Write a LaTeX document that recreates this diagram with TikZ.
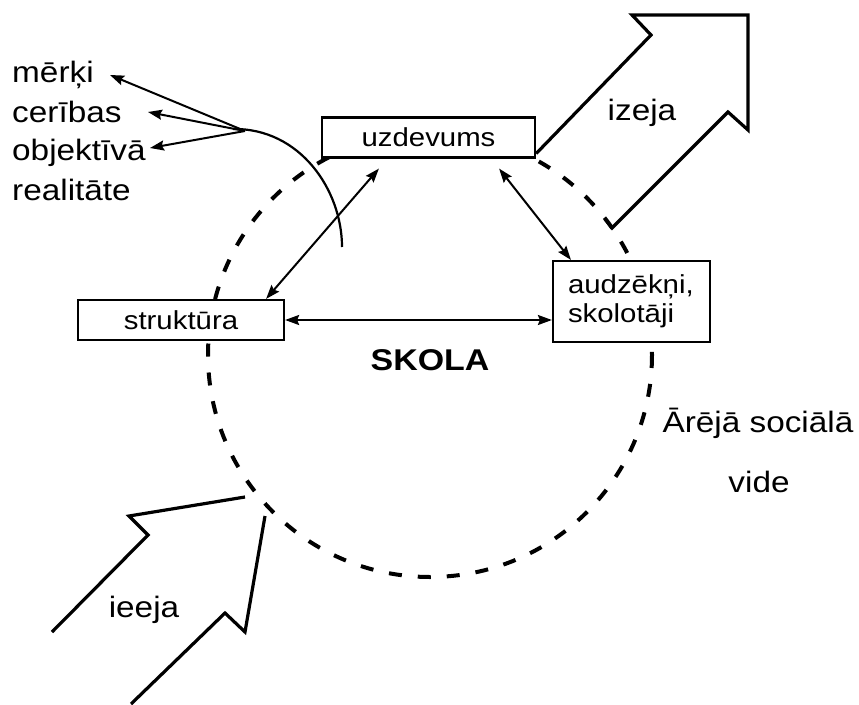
\documentclass[tikz,border=0pt]{standalone}
\usepackage{fontspec}
\setmainfont{Liberation Sans}[FakeStretch=1.13]
\usetikzlibrary{arrows.meta}
\begin{document}
\begin{tikzpicture}[x=1pt,y=-1pt,
  box/.style={draw, line width=2.2pt, fill=white, inner sep=0pt, font=\fontsize{26}{29}\selectfont},
  lab/.style={inner sep=0pt, font=\fontsize{29.5}{34}\selectfont},
  conn/.style={line width=2pt, {Stealth[length=14pt,width=10pt,inset=2pt]}-{Stealth[length=14pt,width=10pt,inset=2pt]}},
  oneway/.style={line width=2pt, -{Stealth[length=14pt,width=10pt,inset=2pt]}},
  big/.style={line width=3.2pt, line join=miter},
  ring/.style={line width=4pt, dash pattern=on 13pt off 16pt}
]
\useasboundingbox (0,0) rectangle (859,704);

% dashed circle (school boundary)
\draw[ring] (430,355) circle [radius=222];

% boxes
\node[box, minimum width=213pt, minimum height=40pt] (u) at (428.5,137.5) {uzdevums};
\node[box, minimum width=206pt, minimum height=40pt] (s) at (181,320) {struktūra};
\node[box, minimum height=81pt, text width=127pt, inner xsep=15pt, align=left] (a) at (631.5,301.5) {audzēkņi,\\skolotāji};

% connectors between boxes
\draw[conn] (s.east) -- (s.east -| a.west);
\draw[conn] ([xshift=-19pt]s.north east) -- ([shift={(58,10)}]u.south west);
\draw[conn] ([shift={(-37,10)}]u.south east) -- ([xshift=19pt]a.north west);

% left labels
\node[lab, anchor=base west] (mer) at (12,82) {mērķi};
\node[lab, anchor=base west] (cer) at (12,122) {cerības};
\node[lab, anchor=base west] (obj) at (12,160) {objektīvā};
\node[lab, anchor=base west] (rea) at (12,200) {realitāte};

\coordinate (hub) at (245,131);
\coordinate (tm) at (110,75);
\coordinate (tc) at (148,112);
\coordinate (to) at (150,148);
\draw[oneway] (hub) -- (tm);
\draw[oneway] (hub) -- (tc);
\draw[oneway] (hub) -- (to);
\draw[line width=2.2pt] (233,129) .. controls (300,128) and (342,190) .. (342,247);

% output arrow (izeja)
\draw[big] ([yshift=5pt]u.south east) -- (651,35) -- (632,15) -- (748,15) -- (748,130) -- (728,112) -- (612,228) -- (605,219);
\node[lab, anchor=base] (iz) at (642,120) {izeja};

% input arrow (ieeja)
\draw[big] (52,632) -- (148,535) -- (129,516) -- (245,497);
\draw[big] (265,516) -- (245,632) -- (225,613) -- (131,704);
\node[lab, anchor=base] (ie) at (144,617) {ieeja};

% other labels
\node[lab, anchor=base, font=\fontsize{30}{34}\selectfont\bfseries] (sk) at (430,370) {SKOLA};
\node[lab, anchor=base] (ar) at (758,432) {Ārējā sociālā};
\node[lab, anchor=base] (vi) at (759,492) {vide};
\end{tikzpicture}
\end{document}
